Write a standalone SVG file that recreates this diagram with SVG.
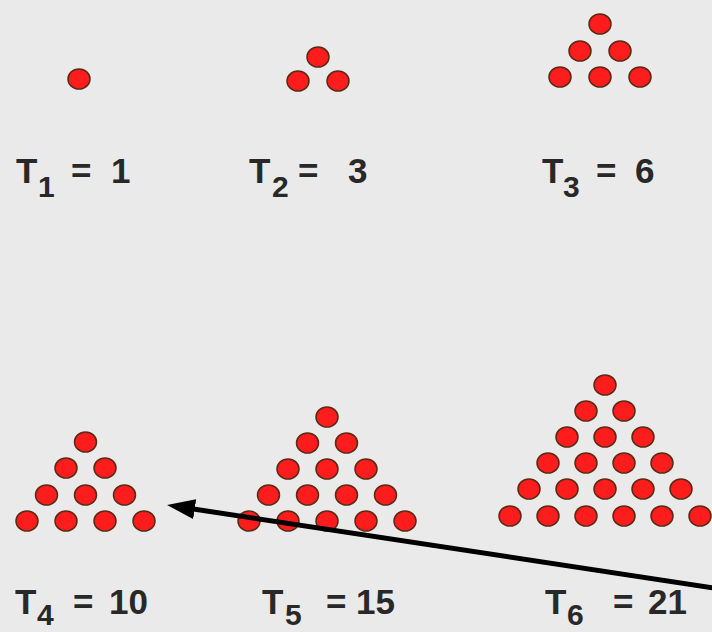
<svg xmlns="http://www.w3.org/2000/svg" width="712" height="632" viewBox="0 0 712 632">
<defs>
<style>
.dot{fill:#ff1c1c;stroke:#5a2a14;stroke-width:1.5}
.lbl{font-family:"Liberation Sans",Arial,sans-serif;font-weight:bold;font-size:35px;fill:#282828}
.sub{font-size:30px}
.conn{stroke:#000;stroke-width:5;fill:none}
</style>
<marker id="ah" viewBox="0 0 28 20" refX="8" refY="10" markerWidth="28" markerHeight="20" markerUnits="userSpaceOnUse" orient="auto">
<path d="M0,0 L28,10 L0,20 z" fill="#000"/>
</marker>
</defs>
<rect width="712" height="632" fill="#eaeaea"/>

<g id="T1">
<ellipse class="dot" cx="79" cy="79" rx="11" ry="10"/>
<text class="lbl" x="16" y="183">T<tspan class="sub" x="38" dy="14">1</tspan><tspan x="71" dy="-14">=</tspan><tspan x="111">1</tspan></text>
</g>

<g id="T2">
<ellipse class="dot" cx="318" cy="57" rx="11" ry="10"/>
<ellipse class="dot" cx="298" cy="81" rx="11" ry="10"/>
<ellipse class="dot" cx="338" cy="81" rx="11" ry="10"/>
<text class="lbl" x="249" y="183">T<tspan class="sub" x="272" dy="14">2</tspan><tspan x="298" dy="-14">=</tspan><tspan x="348">3</tspan></text>
</g>

<g id="T3">
<ellipse class="dot" cx="600" cy="24" rx="11" ry="10"/>
<ellipse class="dot" cx="580" cy="51" rx="11" ry="10"/>
<ellipse class="dot" cx="620" cy="51" rx="11" ry="10"/>
<ellipse class="dot" cx="560" cy="77" rx="11" ry="10"/>
<ellipse class="dot" cx="600" cy="77" rx="11" ry="10"/>
<ellipse class="dot" cx="640" cy="77" rx="11" ry="10"/>
<text class="lbl" x="542" y="183">T<tspan class="sub" x="563" dy="14">3</tspan><tspan x="596" dy="-14">=</tspan><tspan x="635">6</tspan></text>
</g>

<g id="T4">
<ellipse class="dot" cx="85.5" cy="442" rx="11" ry="10"/>
<ellipse class="dot" cx="66" cy="468" rx="11" ry="10"/>
<ellipse class="dot" cx="105" cy="468" rx="11" ry="10"/>
<ellipse class="dot" cx="46.5" cy="495" rx="11" ry="10"/>
<ellipse class="dot" cx="85.5" cy="495" rx="11" ry="10"/>
<ellipse class="dot" cx="124.5" cy="495" rx="11" ry="10"/>
<ellipse class="dot" cx="27" cy="521" rx="11" ry="10"/>
<ellipse class="dot" cx="66" cy="521" rx="11" ry="10"/>
<ellipse class="dot" cx="105" cy="521" rx="11" ry="10"/>
<ellipse class="dot" cx="144" cy="521" rx="11" ry="10"/>
<text class="lbl" x="15" y="614">T<tspan class="sub" x="37" dy="11">4</tspan><tspan x="73" dy="-11">=</tspan><tspan x="109">10</tspan></text>
</g>

<g id="T5">
<ellipse class="dot" cx="327" cy="417" rx="11" ry="10"/>
<ellipse class="dot" cx="307.5" cy="443" rx="11" ry="10"/>
<ellipse class="dot" cx="346.5" cy="443" rx="11" ry="10"/>
<ellipse class="dot" cx="288" cy="469" rx="11" ry="10"/>
<ellipse class="dot" cx="327" cy="469" rx="11" ry="10"/>
<ellipse class="dot" cx="366" cy="469" rx="11" ry="10"/>
<ellipse class="dot" cx="268.5" cy="495" rx="11" ry="10"/>
<ellipse class="dot" cx="307.5" cy="495" rx="11" ry="10"/>
<ellipse class="dot" cx="346.5" cy="495" rx="11" ry="10"/>
<ellipse class="dot" cx="385.5" cy="495" rx="11" ry="10"/>
<ellipse class="dot" cx="249" cy="521" rx="11" ry="10"/>
<ellipse class="dot" cx="288" cy="521" rx="11" ry="10"/>
<ellipse class="dot" cx="327" cy="521" rx="11" ry="10"/>
<ellipse class="dot" cx="366" cy="521" rx="11" ry="10"/>
<ellipse class="dot" cx="405" cy="521" rx="11" ry="10"/>
<text class="lbl" x="262" y="614">T<tspan class="sub" x="285" dy="11">5</tspan><tspan x="326" dy="-11">=</tspan><tspan x="356">15</tspan></text>
</g>

<g id="T6">
<ellipse class="dot" cx="605" cy="385" rx="11" ry="10"/>
<ellipse class="dot" cx="586" cy="411" rx="11" ry="10"/>
<ellipse class="dot" cx="624" cy="411" rx="11" ry="10"/>
<ellipse class="dot" cx="567" cy="437" rx="11" ry="10"/>
<ellipse class="dot" cx="605" cy="437" rx="11" ry="10"/>
<ellipse class="dot" cx="643" cy="437" rx="11" ry="10"/>
<ellipse class="dot" cx="548" cy="463" rx="11" ry="10"/>
<ellipse class="dot" cx="586" cy="463" rx="11" ry="10"/>
<ellipse class="dot" cx="624" cy="463" rx="11" ry="10"/>
<ellipse class="dot" cx="662" cy="463" rx="11" ry="10"/>
<ellipse class="dot" cx="529" cy="489" rx="11" ry="10"/>
<ellipse class="dot" cx="567" cy="489" rx="11" ry="10"/>
<ellipse class="dot" cx="605" cy="489" rx="11" ry="10"/>
<ellipse class="dot" cx="643" cy="489" rx="11" ry="10"/>
<ellipse class="dot" cx="681" cy="489" rx="11" ry="10"/>
<ellipse class="dot" cx="510" cy="516" rx="11" ry="10"/>
<ellipse class="dot" cx="548" cy="516" rx="11" ry="10"/>
<ellipse class="dot" cx="586" cy="516" rx="11" ry="10"/>
<ellipse class="dot" cx="624" cy="516" rx="11" ry="10"/>
<ellipse class="dot" cx="662" cy="516" rx="11" ry="10"/>
<ellipse class="dot" cx="700" cy="516" rx="11" ry="10"/>
<text class="lbl" x="545" y="614">T<tspan class="sub" x="567" dy="11">6</tspan><tspan x="613" dy="-11">=</tspan><tspan x="648">21</tspan></text>
</g>

<g id="connectors">
<path class="conn" d="M714,588 L186.8,508" marker-end="url(#ah)"/>
</g>
</svg>
